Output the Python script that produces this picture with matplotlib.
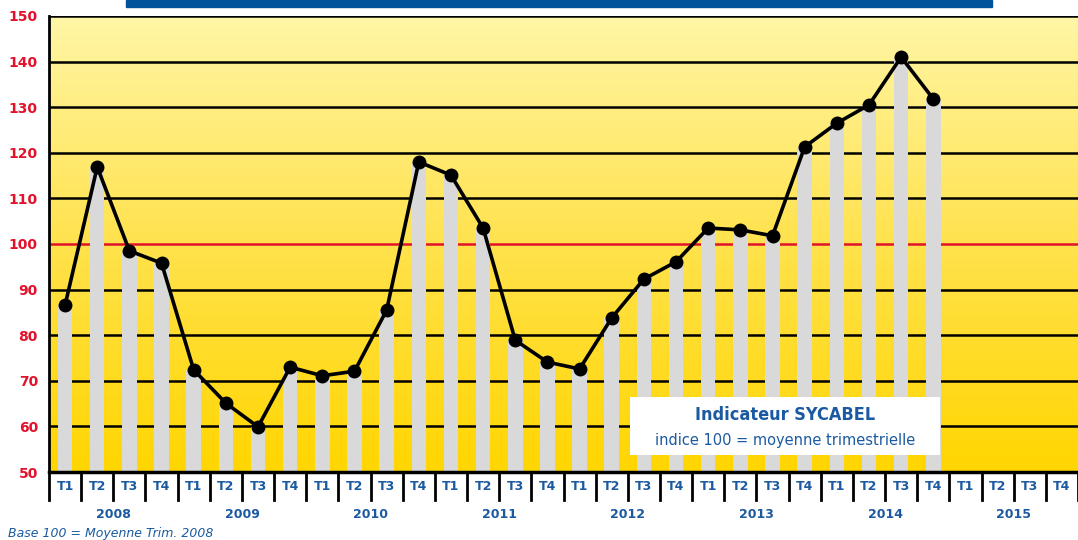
import numpy as np
import matplotlib.pyplot as plt
from matplotlib.colors import LinearSegmentedColormap
from matplotlib.transforms import blended_transform_factory

years = ["2008", "2009", "2010", "2011", "2012", "2013", "2014", "2015"]
quarters = ["T1", "T2", "T3", "T4"]
index_values = [
    86.6, 116.9, 98.5, 95.8,
    72.4, 65.1, 59.9, 73.0,
    71.1, 72.1, 85.5, 118.0,
    115.1, 103.5, 78.9, 74.1,
    72.6, 83.8, 92.3, 96.1,
    103.5, 103.1, 101.8, 121.3,
    126.5, 130.5, 141.0, 131.8,
]

blue = "#1b5aa0"
red = "#e3122c"
n_slots = len(years) * len(quarters)

fig = plt.figure(figsize=(10.78, 5.40), dpi=100)
ax = fig.add_axes([49 / 1078, 68 / 540, 1029 / 1078, 456 / 540])

# background gradient
cmap = LinearSegmentedColormap.from_list("bg", ["#ffd600", "#ffe24d", "#fff6a6"])
grad = np.linspace(0, 1, 256).reshape(-1, 1)
ax.imshow(grad, cmap=cmap, origin="lower", aspect="auto",
          extent=[-0.5, n_slots - 0.5, 50, 150], zorder=0)

x = np.arange(len(index_values))
ax.bar(x, np.array(index_values) - 50, bottom=50, width=0.45,
       color="#d9d9d9", zorder=2)

for v in range(60, 151, 10):
    ax.axhline(v, color=red if v == 100 else "black", lw=1.8, zorder=1.5)

ax.plot(x, index_values, color="black", lw=2.6, marker="o", ms=9, zorder=4)

ax.set_xlim(-0.5, n_slots - 0.5)
ax.set_ylim(50, 150)
ax.set_yticks(range(50, 151, 10))
ax.set_yticklabels([str(v) for v in range(50, 151, 10)],
                   color=red, fontweight="bold", fontsize=10)
ax.tick_params(axis="y", length=0, pad=8)
ax.set_xticks([])
for s in ["top", "right"]:
    ax.spines[s].set_visible(False)
ax.spines["left"].set_linewidth(2)
ax.spines["bottom"].set_linewidth(2.5)

# quarter labels and separators below the axis
tr = blended_transform_factory(ax.transData, ax.transAxes)
for i in range(n_slots + 1):
    ax.plot([i - 0.5, i - 0.5], [0, -28 / 456], color="black", lw=2,
            transform=tr, clip_on=False)
for i in range(n_slots):
    ax.text(i, -14 / 456, quarters[i % 4], transform=tr, ha="center", va="center",
            color=blue, fontweight="bold", fontsize=9)
for j, yr in enumerate(years):
    ax.text(j * 4 + 1.5, -43 / 456, yr, transform=tr, ha="center", va="center",
            color=blue, fontweight="bold", fontsize=9)

fig.text(8 / 1078, 1 - 533 / 540, "Base 100 = Moyenne Trim. 2008", color=blue,
         style="italic", fontsize=9, ha="left", va="center")

# blue bar at top
fig.patches.append(plt.Rectangle((126 / 1078, 1 - 7 / 540), 866 / 1078, 7 / 540,
                                 transform=fig.transFigure, color="#00529b"))

# legend box
box_x0 = (630 - 49) / 1029
box_y0 = (472 - 455) / 456
box = plt.Rectangle((box_x0, box_y0), 310 / 1029, 58 / 456, transform=ax.transAxes,
                    facecolor="white", edgecolor="none", zorder=5)
ax.add_patch(box)
cx = box_x0 + 155 / 1029
ax.text(cx, (472 - 415) / 456, "Indicateur SYCABEL", transform=ax.transAxes,
        ha="center", va="center", color=blue, fontweight="bold", fontsize=13,
        fontstretch="condensed", zorder=6)
ax.text(cx, (472 - 440) / 456, "indice 100 = moyenne trimestrielle",
        transform=ax.transAxes, ha="center", va="center", color=blue, fontsize=10.5,
        zorder=6)

plt.savefig("out.png", dpi=100)
